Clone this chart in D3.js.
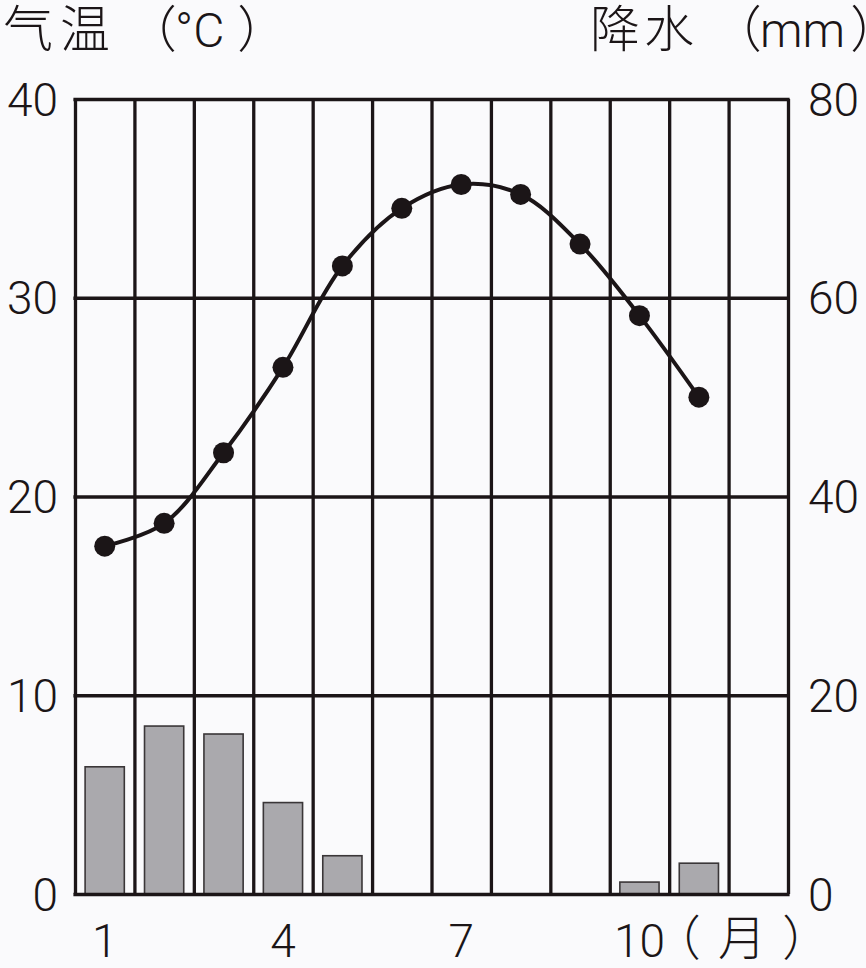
<!DOCTYPE html>
<html>
<head>
<meta charset="utf-8">
<script src="https://cdn.jsdelivr.net/npm/d3@7"></script>
<style>
  html, body { margin: 0; padding: 0; background: #fafafc; }
  svg { display: block; }
  text { font-family: Roboto, "Noto Sans CJK SC", sans-serif; font-weight: 300; fill: #1b1517; }
  .palt { font-feature-settings: "palt" 1; }
</style>
</head>
<body>
<svg id="chart" width="866" height="968"></svg>
<script>
const months = [1, 2, 3, 4, 5, 6, 7, 8, 9, 10, 11, 12];
const temperature = [17.5, 18.65, 22.2, 26.5, 31.6, 34.5, 35.7, 35.2, 32.7, 29.1, 25.0, null];
const precipitation = [12.8, 16.9, 16.1, 9.2, 3.85, 0, 0, 0, 0, 1.2, 3.1, 0];
const tempTicks = [0, 10, 20, 30, 40];
const precTicks = [0, 20, 40, 60, 80];
const monthTicks = [1, 4, 7, 10];
const leftTitle = ["气温", "（", "°C", "）"];
const rightTitle = ["降水", "（", "mm", "）"];
const monthUnit = ["（", "月", "）"];

const W = 866, H = 968;
const mLeft = 75, mRight = 788, mTop = 99, mBottom = 894;
const ink = "#1b1517";
const cjk = "'Noto Sans CJK SC', sans-serif";
const latin = "Roboto, sans-serif";

const svg = d3.select("#chart");
svg.append("rect").attr("width", W).attr("height", H).attr("fill", "#fafafc");

const x = d3.scaleBand().domain(months).range([mLeft, mRight]).paddingInner(0).paddingOuter(0);
const xBar = d3.scaleBand().domain(months).range([mLeft, mRight]).paddingInner(0.34).paddingOuter(0.17);
const xGrid = d3.scaleLinear().domain([0, 12]).range([mLeft, mRight]);
const yT = d3.scaleLinear().domain([0, 40]).range([mBottom, mTop]);
const yP = d3.scaleLinear().domain([0, 80]).range([mBottom, mTop]);

// bars
svg.append("g").selectAll("rect")
  .data(months.map((m, i) => ({ m, v: precipitation[i] })).filter(d => d.v > 0))
  .join("rect")
  .attr("x", d => xBar(d.m))
  .attr("y", d => yP(d.v))
  .attr("width", xBar.bandwidth())
  .attr("height", d => yP(0) - yP(d.v))
  .attr("fill", "#aaa9ad")
  .attr("stroke", "#3a3638")
  .attr("stroke-width", 1.6);

// vertical grid
const vg = svg.append("g").attr("transform", `translate(0,${mBottom})`)
  .call(d3.axisBottom(xGrid).tickValues(d3.range(13)).tickSize(-(mBottom - mTop)).tickFormat(""));
vg.select(".domain").remove();
vg.selectAll("line").attr("stroke", ink).attr("stroke-width", 3.3);

// horizontal grid + left labels
const lg = svg.append("g").attr("transform", `translate(${mLeft},0)`)
  .call(d3.axisLeft(yT).tickValues(tempTicks).tickSize(-(mRight - mLeft)).tickPadding(17));
lg.select(".domain").remove();
lg.selectAll("line").attr("stroke", ink).attr("stroke-width", 3.5).attr("x1", -1.6).attr("x2", mRight - mLeft + 1.6);
lg.selectAll("text").attr("font-size", 46).attr("font-family", latin).attr("font-weight", 300).attr("fill", ink).attr("dy", "0.35em");

// right labels
const rg = svg.append("g").attr("transform", `translate(${mRight},0)`)
  .call(d3.axisRight(yP).tickValues(precTicks).tickSize(0).tickPadding(20));
rg.select(".domain").remove();
rg.selectAll("text").attr("font-size", 46).attr("font-family", latin).attr("font-weight", 300).attr("fill", ink).attr("dy", "0.35em");

// bottom month labels
const bg = svg.append("g").attr("transform", `translate(0,${mBottom})`)
  .call(d3.axisBottom(x).tickValues(monthTicks).tickSize(0).tickPadding(30));
bg.select(".domain").remove();
bg.selectAll("text").attr("font-size", 46).attr("font-family", latin).attr("font-weight", 300).attr("fill", ink).attr("dy", "0.71em");

function titled(parts, xs, fonts, sizes, y, spacing) {
  const t = svg.append("text").attr("class", "palt").attr("y", y).attr("fill", ink).attr("font-weight", 300);
  parts.forEach((p, i) => {
    t.append("tspan").attr("x", xs[i]).attr("font-family", fonts[i]).attr("font-size", sizes[i])
      .attr("letter-spacing", i === 0 ? spacing : 0).text(p);
  });
  return t;
}

// month unit
titled(monthUnit, [675, 718, 784], [cjk, cjk, cjk], [48, 48, 48], 955, 0);

// titles
titled(leftTitle, [3, 150, 175, 239], [cjk, cjk, latin, cjk], [50, 50, 48, 50], 47, 7);
titled(rightTitle, [590, 735, 760, 852], [cjk, cjk, latin, cjk], [50, 50, 48, 50], 47, 4);

// temperature line
const tData = months.map((m, i) => ({ m, v: temperature[i] })).filter(d => d.v != null);
const cx = d => x(d.m) + x.bandwidth() / 2;
svg.append("path")
  .datum(tData)
  .attr("fill", "none")
  .attr("stroke", ink)
  .attr("stroke-width", 4)
  .attr("d", d3.line().x(cx).y(d => yT(d.v)).curve(d3.curveCatmullRom.alpha(0.5)));
svg.append("g").selectAll("circle")
  .data(tData)
  .join("circle")
  .attr("cx", cx)
  .attr("cy", d => yT(d.v))
  .attr("r", 10.5)
  .attr("fill", ink);
</script>
</body>
</html>
